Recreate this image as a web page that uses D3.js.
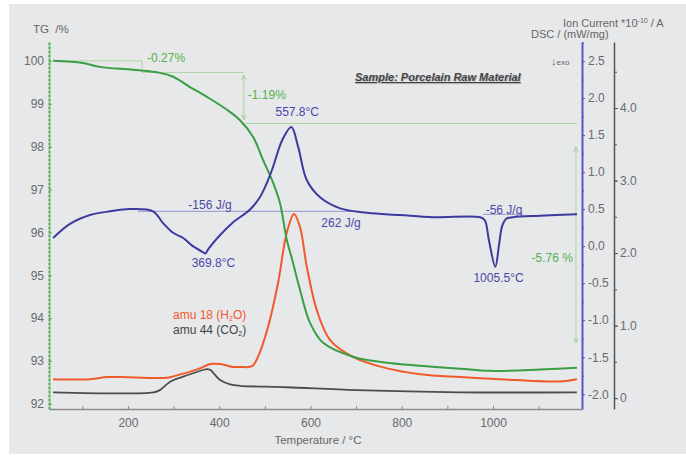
<!DOCTYPE html>
<html lang="en">
<head>
<meta charset="utf-8">
<title>TG-DSC-MS porcelain</title>
<script src="https://cdn.jsdelivr.net/npm/d3@7"></script>
<style>
body{margin:0;background:#fff;}
text{font-family:Arial,"Liberation Sans",sans-serif;}
.axis text{font-size:12px;fill:#6a6a6a;stroke:none;}
</style>
</head>
<body>
<script>
var w=686, h=457;

// TG curve (%)
var tgTemp=[36,101,139,211,270,299,336,373,417,445,474,496,518,533,548,559,577,599,627,693,768,840,928,993,1103,1184];
var tgVal=[100.0,99.95,99.86,99.79,99.72,99.63,99.39,99.16,98.86,98.62,98.23,97.69,97.16,96.69,95.83,95.40,94.66,93.89,93.43,93.10,92.96,92.89,92.82,92.77,92.80,92.84];

// DSC curve (mW/mg)
var dscTemp=[36,73,117,161,204,255,277,299,321,340,364,370,375,402,430,467,489,507,518,538,558,573,592,621,665,724,796,868,972,982,991,1005,1013,1020,1029,1044,1103,1184];
var dscVal=[0.11,0.30,0.42,0.47,0.50,0.47,0.31,0.18,0.11,0.01,-0.08,-0.10,-0.05,0.15,0.32,0.49,0.66,0.89,1.07,1.43,1.61,1.34,0.89,0.66,0.51,0.45,0.42,0.39,0.39,0.35,0.08,-0.28,0.01,0.27,0.37,0.39,0.41,0.43];

// ion current amu 18 (H2O)
var h2oTemp=[36,117,154,182,285,299,358,380,402,430,445,472,485,507,529,548,564,577,592,614,643,693,768,840,928,1015,1147,1184];
var h2oVal=[0.26,0.26,0.29,0.29,0.28,0.30,0.41,0.47,0.47,0.43,0.43,0.44,0.57,0.98,1.59,2.28,2.54,2.36,1.81,1.21,0.80,0.57,0.41,0.33,0.29,0.26,0.23,0.26];

// ion current amu 44 (CO2)
var co2Temp=[36,256,270,291,318,346,373,380,402,424,445,548,700,928,1184];
var co2Val=[0.08,0.08,0.11,0.22,0.29,0.35,0.40,0.39,0.25,0.19,0.17,0.15,0.11,0.08,0.08];

// axis ticks
var tempTicks=[200,400,600,800,1000];
var tempMinor=[100,200,300,400,500,600,700,800,900,1000,1100];
var tgTicks=[92,93,94,95,96,97,98,99,100];
var dscTicks=[-2,-1.5,-1,-0.5,0,0.5,1,1.5,2,2.5];
var ionTicks=[0,1,2,3,4];

// mass loss steps and peak labels
var stepLabels=["-0.27%","-1.19%","-5.76 %"];
var stepLoss=[0.27,1.19,5.76];
var peakTemp=[369.8,557.8,1005.5];
var peakText=["369.8°C","557.8°C","1005.5°C"];

var svg=d3.select("body").append("svg").attr("width",w).attr("height",h);

svg.append("rect").attr("x",9).attr("y",4).attr("width",677).attr("height",450).attr("fill","#e7e8ea");

var x=d3.scaleLinear().domain([27,1195]).range([49,582]);
var yTG=d3.scaleLinear().domain([91.88,100.44]).range([409,42]);
var yDSC=d3.scaleLinear().domain([-2.2,2.757]).range([409,42]);
var yIon=d3.scaleLinear().domain([-0.15,4.91]).range([409,42]);

var defs=svg.append("defs");
defs.append("marker").attr("id","arr").attr("viewBox","0 0 10 10")
    .attr("refX",9).attr("refY",5).attr("markerWidth",5).attr("markerHeight",6)
    .attr("orient","auto-start-reverse")
  .append("path").attr("d","M0,1L10,5L0,9").attr("fill","none").attr("stroke","#8fcb88").attr("stroke-width",1.5);

// x axis
svg.append("g").attr("class","axis").attr("transform","translate(0,409)")
   .call(d3.axisBottom(x).tickValues(tempMinor).tickSizeInner(-3).tickSizeOuter(0).tickPadding(9)
        .tickFormat(function(d){ return tempTicks.indexOf(d)>=0 ? d : ""; }))
   .call(function(g){
     g.select(".domain").attr("stroke","#8a8a8a").attr("stroke-width",1.5);
     g.selectAll(".tick line").attr("stroke","#8a8a8a");
   });

// TG axis
svg.append("g").attr("class","axis").attr("transform","translate(49,0)")
   .call(d3.axisLeft(yTG).tickValues(tgTicks).tickSizeInner(-3).tickSizeOuter(0).tickPadding(5).tickFormat(d3.format("d")))
   .call(function(g){
     g.select(".domain").attr("stroke","#49ad4e").attr("stroke-width",2).attr("stroke-dasharray","3,1");
     g.selectAll(".tick line").attr("stroke","#49ad4e");
   });

// DSC axis
svg.append("g").attr("class","axis").attr("transform","translate(582,0)")
   .call(d3.axisRight(yDSC).tickValues(d3.range(-2,2.751,0.25)).tickSize(2).tickFormat(""))
   .call(function(g){ g.select(".domain").remove(); g.selectAll(".tick line").attr("stroke","#5a55c8"); });
svg.append("g").attr("class","axis").attr("transform","translate(582,0)")
   .call(d3.axisRight(yDSC).tickValues(dscTicks).tickSizeInner(3).tickSizeOuter(0).tickPadding(3)
        .tickFormat(function(d){ return d.toFixed(1); }))
   .call(function(g){
     g.select(".domain").attr("stroke","#5a55c8").attr("stroke-width",2);
     g.selectAll(".tick line").attr("stroke","#5a55c8");
   });

// ion current axis
svg.append("g").attr("class","axis").attr("transform","translate(614,0)")
   .call(d3.axisRight(yIon).tickValues(d3.range(0,4.9,0.5)).tickSize(3).tickFormat(""))
   .call(function(g){ g.select(".domain").remove(); g.selectAll(".tick line").attr("stroke","#555"); });
svg.append("g").attr("class","axis").attr("transform","translate(614,0)")
   .call(d3.axisRight(yIon).tickValues(ionTicks).tickSizeInner(4).tickSizeOuter(0).tickPadding(2)
        .tickFormat(function(d){ return d===0 ? "0" : d.toFixed(1); }))
   .call(function(g){
     g.select(".domain").attr("stroke","#555").attr("stroke-width",1.5);
     g.selectAll(".tick line").attr("stroke","#555");
   });

// axis titles
svg.append("text").attr("x",33).attr("y",33).attr("font-size",11.5).attr("fill","#666").text("TG\u00a0\u00a0/%");
svg.append("text").attr("x",318).attr("y",444).attr("text-anchor","middle").attr("font-size",11.5).attr("fill","#666").text("Temperature / °C");
var ic=svg.append("text").attr("x",563).attr("y",27).attr("font-size",11).attr("fill","#666");
ic.append("tspan").text("Ion Current *10");
ic.append("tspan").attr("dy",-4).attr("font-size",7).text("-10");
ic.append("tspan").attr("dy",4).text(" / A");
svg.append("text").attr("x",531).attr("y",38).attr("font-size",11).attr("fill","#666").text("DSC / (mW/mg)");
var ex=svg.append("text").attr("x",551).attr("y",65).attr("fill","#666");
ex.append("tspan").attr("font-size",11).text("↓");
ex.append("tspan").attr("font-size",8).text("exo");

// sample title with shadow
var title="Sample: Porcelain Raw Material";
svg.append("text").attr("x",356).attr("y",82).attr("font-size",11).attr("font-weight","bold").attr("font-style","italic")
   .attr("fill","#bdbdbd").attr("text-decoration","underline").text(title);
svg.append("text").attr("x",355).attr("y",81).attr("font-size",11).attr("font-weight","bold").attr("font-style","italic")
   .attr("fill","#444").attr("text-decoration","underline").text(title);

// TG step lines
var lev0=100, lev1=lev0-stepLoss[0], lev2=lev1-stepLoss[1], lev3=lev2-stepLoss[2];
var stepX=[231,454,1184];
var ann=svg.append("g").attr("stroke","#a9d6a3").attr("stroke-width",1).attr("fill","none");
ann.append("path").attr("d","M"+x(36)+","+yTG(lev0)+"H"+x(stepX[0])+"V"+yTG(lev1)+"H"+x(stepX[1]));
ann.append("line").attr("x1",x(stepX[1])).attr("x2",x(stepX[2])).attr("y1",yTG(lev2)).attr("y2",yTG(lev2));
ann.append("line").attr("x1",x(stepX[1])).attr("x2",x(stepX[1])).attr("y1",yTG(lev1)+3).attr("y2",yTG(lev2)-4)
   .attr("marker-start","url(#arr)").attr("marker-end","url(#arr)");
ann.append("line").attr("x1",x(stepX[2])-1).attr("x2",x(stepX[2])-1).attr("y1",yTG(lev2)+24).attr("y2",yTG(lev3)-28)
   .attr("marker-start","url(#arr)").attr("marker-end","url(#arr)");

var gtx=svg.append("g").attr("fill","#55b04f").attr("font-size",12);
gtx.append("text").attr("x",x(stepX[0])+5).attr("y",62).text(stepLabels[0]);
gtx.append("text").attr("x",x(stepX[1])+4).attr("y",99).text(stepLabels[1]);
gtx.append("text").attr("x",x(stepX[2])-4).attr("y",262).attr("text-anchor","end").text(stepLabels[2]);

// DSC baselines
svg.append("line").attr("x1",x(222)).attr("x2",x(708)).attr("y1",yDSC(0.47)).attr("y2",yDSC(0.47))
   .attr("stroke","#a3a3d6").attr("stroke-width",1.2);
svg.append("line").attr("x1",x(978)).attr("x2",x(1066)).attr("y1",yDSC(0.43)).attr("y2",yDSC(0.43))
   .attr("stroke","#a3a3d6").attr("stroke-width",1.2);

function drawLine(tt,vv,ys,color,sw){
  var pts=tt.map(function(t,i){ return [t,vv[i]]; });
  svg.append("path").datum(pts)
     .attr("fill","none").attr("stroke",color).attr("stroke-width",sw).attr("stroke-linejoin","round")
     .attr("d",d3.line().x(function(d){ return x(d[0]); }).y(function(d){ return ys(d[1]); }).curve(d3.curveCatmullRom.alpha(0.5)));
}

drawLine(co2Temp,co2Val,yIon,"#4d4d4d",1.8);
drawLine(h2oTemp,h2oVal,yIon,"#f2592a",2);
drawLine(tgTemp,tgVal,yTG,"#3a9e44",2);
drawLine(dscTemp,dscVal,yDSC,"#3d3a9e",2);

// DSC labels
var gb=svg.append("g").attr("fill","#4a47a8").attr("font-size",12).attr("text-anchor","middle");
gb.append("text").attr("x",x(peakTemp[0])+8).attr("y",267).text(peakText[0]);
gb.append("text").attr("x",x(peakTemp[1])+6).attr("y",116).text(peakText[1]);
gb.append("text").attr("x",x(peakTemp[2])+3).attr("y",282).text(peakText[2]);
gb.append("text").attr("x",210).attr("y",209).text("-156 J/g");
gb.append("text").attr("x",341).attr("y",227).text("262 J/g");
gb.append("text").attr("x",504).attr("y",214).text("-56 J/g");

// legend
var l1=svg.append("text").attr("x",173).attr("y",319).attr("font-size",12).attr("fill","#f2592a");
l1.append("tspan").text("amu 18 (H");
l1.append("tspan").attr("font-size",7).attr("dy",2).text("2");
l1.append("tspan").attr("dy",-2).text("O)");
var l2=svg.append("text").attr("x",173).attr("y",334).attr("font-size",12).attr("fill","#444");
l2.append("tspan").text("amu 44 (CO");
l2.append("tspan").attr("font-size",7).attr("dy",2).text("2");
l2.append("tspan").attr("dy",-2).text(")");
</script>
</body>
</html>
